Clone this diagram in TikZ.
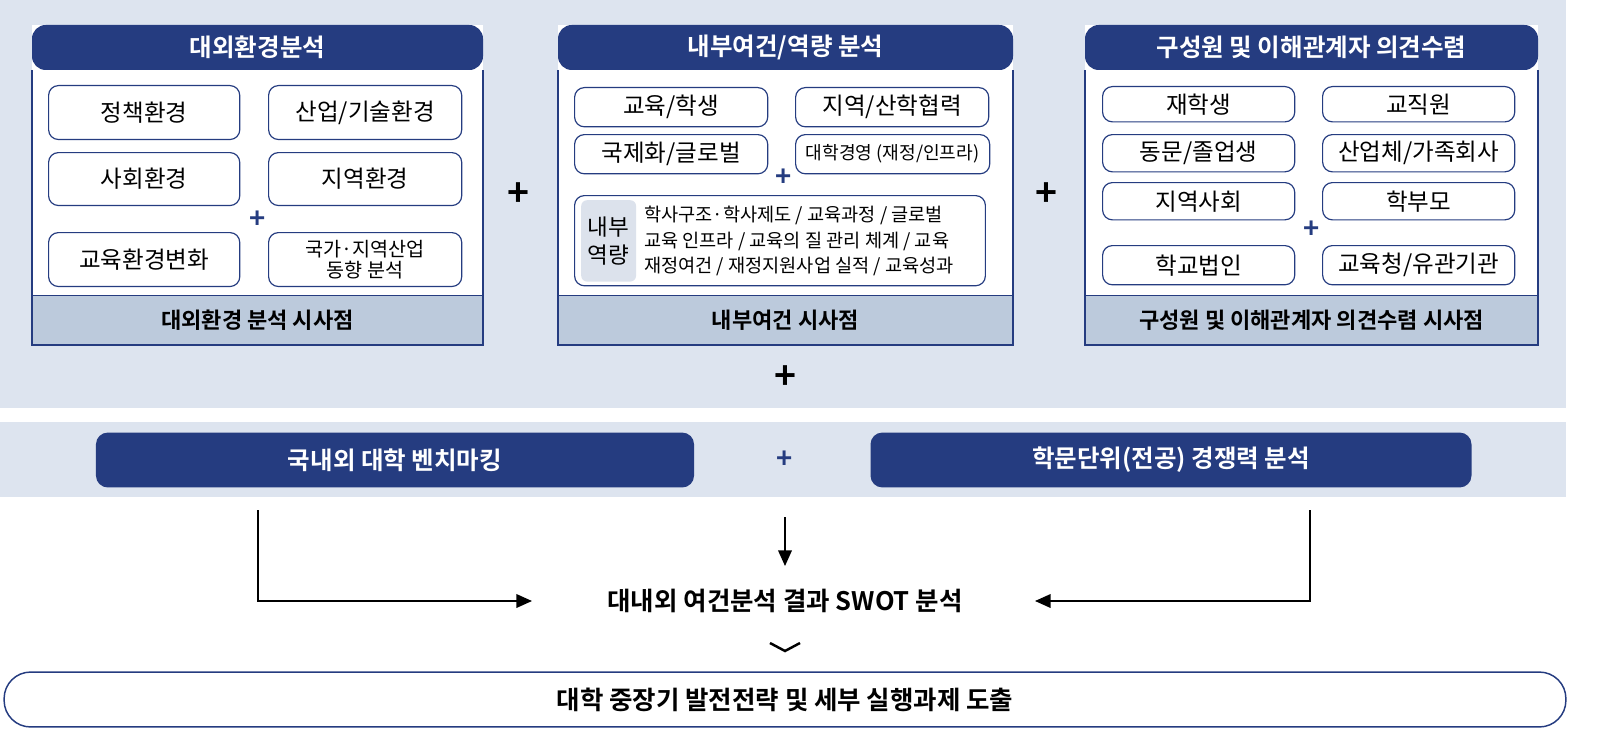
\documentclass[tikz,border=0pt]{standalone}
\usepackage{fontspec}
\setmainfont{Noto Sans CJK KR}
\newfontfamily\kb{Noto Sans CJK KR Bold}
\usetikzlibrary{arrows.meta}
\definecolor{navy}{HTML}{253C80}
\definecolor{bgl}{HTML}{DDE4EF}
\definecolor{foot}{HTML}{BCCADC}
\definecolor{gbox}{HTML}{DCE2EC}
\begin{document}
\begin{tikzpicture}[x=1.02pt,y=-1.02pt,
 sb/.style={draw=navy,line width=1.2pt,rounded corners=10pt,fill=white,font=\fontsize{24}{26}\selectfont,inner sep=0pt},
 hd/.style={text=white,font=\kb\fontsize{25}{28}\selectfont},
 ft/.style={font=\kb\fontsize{22.5}{26}\selectfont},
 bp/.style={text=navy,font=\kb\fontsize{28}{28}\selectfont},
 kp/.style={font=\kb\fontsize{38}{38}\selectfont},
 dk/.style={fill=navy,rounded corners=12pt,text=white,font=\kb\fontsize{25}{28}\selectfont},
 arr/.style={line width=1.5pt,-{Triangle[length=16pt,width=14pt]}}]
\useasboundingbox (0,0) rectangle (1599,743);
\fill[bgl] (0,0) rectangle (1566,408);
\fill[bgl] (0,422) rectangle (1566,497);
% panels
\foreach \a/\b/\h/\f [count=\i] in {32/483/{대외환경분석}/{대외환경 분석 시사점},558/1013/{내부여건/역량 분석}/{내부여건 시사점},1085/1538/{구성원 및 이해관계자 의견수렴}/{구성원 및 이해관계자 의견수렴 시사점}}{
 \fill[white] (\a,25) rectangle (\b,345);
 \fill[navy,rounded corners=14pt] (\a,70) -- (\a,25) -- (\b,25) -- (\b,70) -- cycle;
 \fill[foot] (\a,295) rectangle (\b,345);
 \draw[navy,line width=1.5pt] (\a,70) -- (\a,345) -- (\b,345) -- (\b,70);
 \draw[navy,line width=1pt] (\a,295) -- (\b,295);
 \node[hd] (h\i) at ({(\a+\b)/2},47) {\h};
 \node[ft] (f\i) at ({(\a+\b)/2},320) {\f};
}
% panel 1
\foreach \t/\x/\y/\w/\hh [count=\i] in {{정책환경}/48/85/195/55,{산업/기술환경}/268/85/197/55,{사회환경}/48/152/195/54,{지역환경}/268/152/197/54,{교육환경변화}/48/232/195/55}
 \node[sb,minimum width=\w,minimum height=\hh,anchor=north west] (a\i) at (\x,\y) {\t};
\node[sb,minimum width=197,minimum height=55,anchor=north west,align=center,font=\fontsize{20}{22}\selectfont] (a6) at (268,232) {국가·지역산업\\동향 분석};
\node[bp] (p1) at (258,220) {+};
% panel 2
\foreach \t/\x/\y [count=\i] in {{교육/학생}/574/87,{지역/산학협력}/795/87,{국제화/글로벌}/574/134}
 \node[sb,minimum width=197,minimum height=40,anchor=north west] (b\i) at (\x,\y) {\t};
\node[sb,minimum width=198,minimum height=40,anchor=north west,font=\fontsize{18.5}{20}\selectfont] (b4) at (795,134) {대학경영 (재정/인프라)};
\node[bp] (p2) at (784,178) {+};
\node[sb,minimum width=419,minimum height=92,anchor=north west] (b5) at (574,195) {};
\node[fill=gbox,rounded corners=6pt,minimum width=56,minimum height=83,anchor=north west,align=center,inner sep=0pt,font=\fontsize{23}{28}\selectfont] (b6) at (581,200) {내부\\역량};
\node[anchor=west,align=left,inner sep=0pt,font=\fontsize{19}{26}\selectfont] (b7) at (644,241) {학사구조·학사제도 / 교육과정 / 글로벌\\교육 인프라 / 교육의 질 관리 체계 / 교육\\재정여건 / 재정지원사업 실적 / 교육성과};
% panel 3
\foreach \t/\x/\y/\hh [count=\i] in {{재학생}/1102/86/36,{교직원}/1322/86/36,{동문/졸업생}/1102/134/38,{산업체/가족회사}/1322/134/38,{지역사회}/1102/182/38,{학부모}/1322/182/38,{학교법인}/1102/245/40,{교육청/유관기관}/1322/245/40}
 \node[sb,minimum width=196,minimum height=\hh,anchor=north west] (c\i) at (\x,\y) {\t};
\node[bp] (p3) at (1312,230) {+};
% big plusses
\node[kp] (k1) at (518,195) {+};
\node[kp] (k2) at (1046,195) {+};
\node[kp] (k3) at (785,378) {+};
% band 2
\node[dk,minimum width=610,minimum height=56] (d1) at (395,460) {국내외 대학 벤치마킹};
\node[dk,minimum width=613,minimum height=56] (d2) at (1171,460) {학문단위(전공) 경쟁력 분석};
\node[bp] (p4) at (785,460) {+};
% swot
\node[font=\kb\fontsize{26}{28}\selectfont,inner sep=0pt] (sw) at (785,601) {대내외 여건분석 결과 SWOT 분석};
\coordinate (l0) at (258,510); \coordinate (l1) at (258,601); \coordinate (le) at (532,601);
\coordinate (r0) at (1310,510); \coordinate (r1) at (1310,601); \coordinate (re) at (1035,601);
\coordinate (m0) at (785,517); \coordinate (me) at (785,566);
\draw[arr] (l0) -- (l1) -- (le);
\draw[arr] (r0) -- (r1) -- (re);
\draw[arr] (m0) -- (me);
\coordinate (v1) at (770,643); \coordinate (v2) at (785,651); \coordinate (v3) at (800,643);
\draw[line width=2.5pt] (v1) -- (v2) -- (v3);
\node[draw=navy,line width=1.5pt,rounded corners=27pt,minimum width=1593,minimum height=56,font=\kb\fontsize{26}{28}\selectfont] (fin) at (785,699.5) {대학 중장기 발전전략 및 세부 실행과제 도출};
\end{tikzpicture}
\end{document}
